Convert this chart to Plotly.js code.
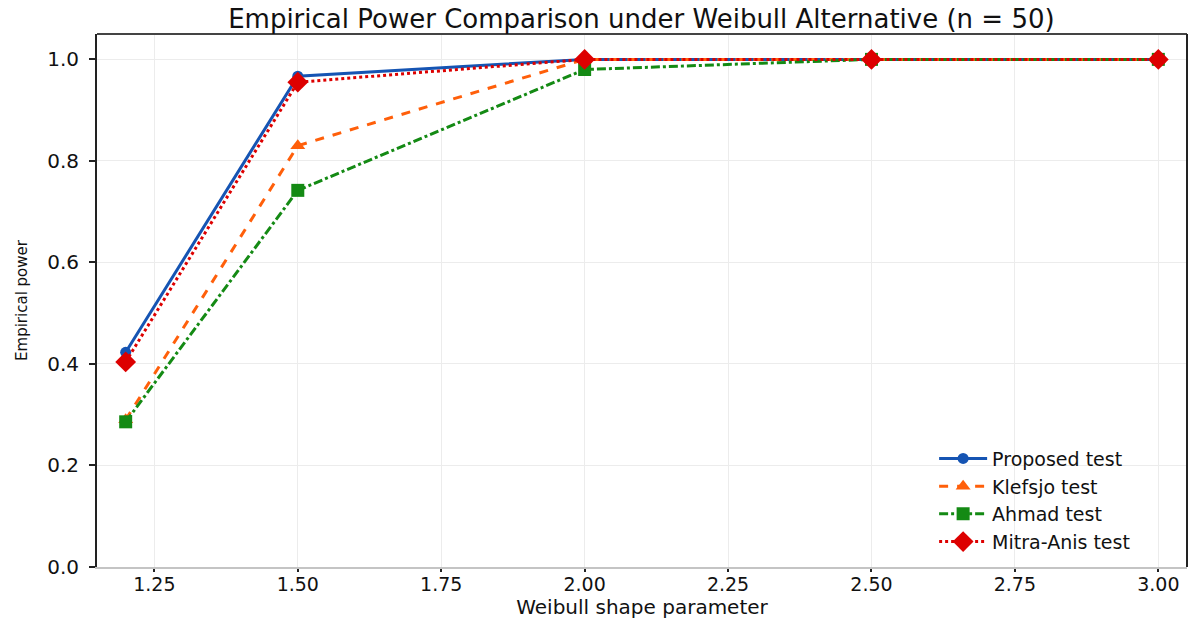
<!DOCTYPE html>
<html>
<head>
<meta charset="utf-8">
<script src="https://cdn.plot.ly/plotly-3.0.1.min.js"></script>
<style>html,body{margin:0;padding:0;background:#fff;}#chart{width:1190px;height:619px;}</style>
</head>
<body>
<div id="chart"></div>
<script>
const shapeParam = [1.2, 1.5, 2.0, 2.5, 3.0];
const proposed = [0.423, 0.967, 1.0, 1.0, 1.0];
const klefsjo = [0.29, 0.830, 1.0, 1.0, 1.0];
const ahmad = [0.286, 0.742, 0.980, 1.0, 1.0];
const mitraAnis = [0.404, 0.955, 1.0, 1.0, 1.0];
const seriesNames = ["Proposed test", "Klefsjo test", "Ahmad test", "Mitra-Anis test"];
const xTicks = [1.25, 1.5, 1.75, 2.0, 2.25, 2.5, 2.75, 3.0];
const yTicks = [0, 0.2, 0.4, 0.6, 0.8, 1.0];

const FONT = "DejaVu Sans, sans-serif";

const traces = [
  {x: shapeParam, y: proposed, name: seriesNames[0], mode: "lines+markers",
   line: {color: "#1554b3", width: 3, dash: "solid"},
   marker: {symbol: "circle", size: 11, color: "#1554b3"}},
  {x: shapeParam, y: klefsjo, name: seriesNames[1], mode: "lines+markers",
   line: {color: "#ff5f0a", width: 3, dash: "dash"},
   marker: {symbol: "triangle-up", size: 13, color: "#ff5f0a"}},
  {x: shapeParam, y: ahmad, name: seriesNames[2], mode: "lines+markers",
   line: {color: "#148a14", width: 3, dash: "dashdot"},
   marker: {symbol: "square", size: 13, color: "#148a14"}},
  {x: shapeParam, y: mitraAnis, name: seriesNames[3], mode: "lines+markers",
   line: {color: "#dd0000", width: 3, dash: "dot"},
   marker: {symbol: "diamond", size: 16, color: "#dd0000"}}
];

const layout = {
  width: 1190, height: 619,
  paper_bgcolor: "#ffffff", plot_bgcolor: "#ffffff",
  margin: {l: 97, r: 3, t: 34, b: 52, pad: 0},
  font: {family: FONT, color: "#111"},
  title: {text: "Empirical Power Comparison under Weibull Alternative (n = 50)",
          font: {family: FONT, size: 26, color: "#111"},
          x: 0.539, xanchor: "center", y: 0.970, yanchor: "middle"},
  xaxis: {
    range: [1.15, 3.05], tickvals: xTicks, tickformat: ".2f",
    ticks: "outside", ticklen: 3, tickwidth: 2, tickcolor: "#222",
    ticklabelstandoff: -4,
    showgrid: true, gridcolor: "#ececec", gridwidth: 1,
    showline: true, linecolor: "#c4c4c4", linewidth: 2, zeroline: false,
    tickfont: {family: FONT, size: 19, color: "#111"},
    title: {text: "Weibull shape parameter", font: {family: FONT, size: 20, color: "#111"}, standoff: 2}
  },
  yaxis: {
    range: [0, 1.05], tickvals: yTicks, tickformat: ".1f",
    ticks: "outside", ticklen: 6, tickwidth: 2, tickcolor: "#222",
    ticklabelstandoff: 6,
    showgrid: true, gridcolor: "#ececec", gridwidth: 1,
    showline: true, linecolor: "#222", linewidth: 2, zeroline: false,
    tickfont: {family: FONT, size: 20, color: "#111"},
    title: {text: "Empirical power", font: {family: FONT, size: 15, color: "#111"}, standoff: 16}
  },
  shapes: [
    {type: "line", xref: "paper", yref: "paper", x0: 0, x1: 1, y0: 1, y1: 1,
     line: {color: "#444", width: 2}},
    {type: "line", xref: "paper", yref: "paper", x0: 1, x1: 1, y0: 0, y1: 1,
     line: {color: "#222", width: 2}}
  ],
  showlegend: true,
  legend: {x: 0.768, xanchor: "left", y: 0.012, yanchor: "bottom",
           bgcolor: "rgba(0,0,0,0)", borderwidth: 0,
           font: {family: FONT, size: 19, color: "#111"},
           tracegroupgap: 0, itemwidth: 48}
};

Plotly.newPlot("chart", traces, layout, {displayModeBar: false, staticPlot: true});
</script>
</body>
</html>
